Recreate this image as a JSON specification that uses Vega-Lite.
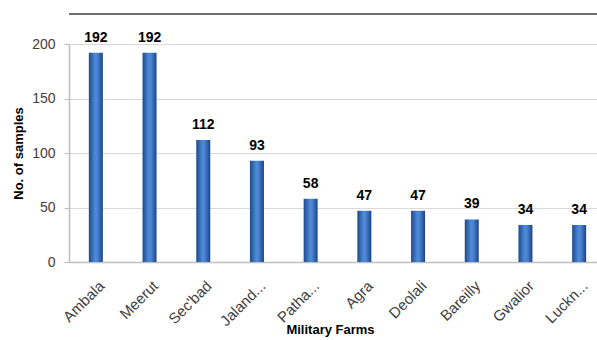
{
  "$schema": "https://vega.github.io/schema/vega-lite/v6.json",
  "width": 537,
  "height": 218,
  "autosize": {"type": "none"},
  "padding": {"left": 69, "top": 44, "right": 0, "bottom": 78},
  "background": "white",
  "config": {
    "view": {"stroke": null},
    "font": "Liberation Sans"
  },
  "data": {
    "values": [
      {"farm": "Ambala", "n": 192},
      {"farm": "Meerut", "n": 192},
      {"farm": "Sec'bad", "n": 112},
      {"farm": "Jaland...", "n": 93},
      {"farm": "Patha...", "n": 58},
      {"farm": "Agra", "n": 47},
      {"farm": "Deolali", "n": 47},
      {"farm": "Bareilly", "n": 39},
      {"farm": "Gwalior", "n": 34},
      {"farm": "Luckn...", "n": 34}
    ]
  },
  "layer": [
    {
      "mark": {"type": "bar", "size": 14,
        "color": {"gradient": "linear", "x1": 0, "x2": 1, "y1": 0, "y2": 0,
          "stops": [{"offset": 0, "color": "#1d4a8c"}, {"offset": 0.45, "color": "#4f8ad8"}, {"offset": 0.6, "color": "#4a84d2"}, {"offset": 1, "color": "#1b4584"}]}
      },
      "encoding": {
        "x": {
          "field": "farm", "type": "nominal", "sort": null,
          "scale": {"paddingInner": 0, "paddingOuter": 0},
          "axis": {
            "title": "Military  Farms",
            "titleFont": "Liberation Sans", "titleFontSize": 13, "titleFontWeight": "bold", "titleColor": "#000000",
            "titleX": 261, "titleY": 61, "titleBaseline": "top",
            "labelAngle": -45, "labelAlign": "right", "labelBaseline": "top",
            "labelFontSize": 15, "labelColor": "#404040", "labelPadding": 16, "labelOffset": 1,
            "ticks": false, "domainColor": "#bfbfbf", "domainWidth": 1.5, "grid": false
          }
        },
        "y": {
          "field": "n", "type": "quantitative",
          "scale": {"domain": [0, 200], "nice": false},
          "axis": {
            "title": "No. of samples", "titleFont": "Liberation Sans", "titleFontSize": 13, "titleFontWeight": "bold", "titleColor": "#000000",
            "titlePadding": 6,
            "values": [0, 50, 100, 150, 200],
            "labelFontSize": 14, "labelColor": "#404040", "labelPadding": 9,
            "ticks": true, "tickSize": 5, "tickColor": "#bfbfbf", "domainColor": "#bfbfbf", "domainWidth": 1.5,
            "gridColor": "#d9d9d9", "gridWidth": 1.2
          }
        }
      }
    },
    {
      "mark": {"type": "text", "dy": -11, "fontSize": 14, "fontWeight": "bold", "color": "#000000", "baseline": "alphabetic"},
      "encoding": {
        "x": {"field": "farm", "type": "nominal", "sort": null},
        "y": {"field": "n", "type": "quantitative"},
        "text": {"field": "n", "type": "quantitative"}
      }
    },
    {
      "mark": {"type": "rule", "color": "#707070", "strokeWidth": 2, "clip": false},
      "encoding": {"y": {"datum": 227.5, "type": "quantitative"}}
    }
  ]
}
